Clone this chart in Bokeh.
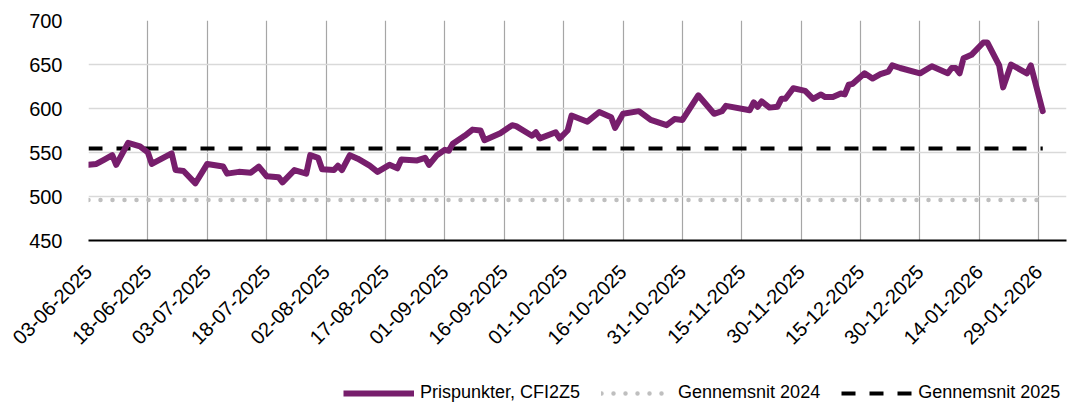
import math
import pandas as pd
from bokeh.plotting import figure
from bokeh.layouts import column
from bokeh.models import Range1d, FixedTicker, DatetimeTickFormatter, Legend, LegendItem, ColumnDataSource
from bokeh.embed import file_html
from bokeh.resources import INLINE

# ---- data ----
dates = [
    "2025-06-03", "2025-06-05", "2025-06-07", "2025-06-09", "2025-06-10", "2025-06-13",
    "2025-06-16", "2025-06-18", "2025-06-19", "2025-06-24", "2025-06-25", "2025-06-27",
    "2025-06-30", "2025-07-03", "2025-07-07", "2025-07-08", "2025-07-11", "2025-07-14",
    "2025-07-16", "2025-07-18", "2025-07-21", "2025-07-22", "2025-07-25", "2025-07-28",
    "2025-07-29", "2025-07-31", "2025-08-01", "2025-08-04", "2025-08-05", "2025-08-06",
    "2025-08-08", "2025-08-10", "2025-08-13", "2025-08-15", "2025-08-18", "2025-08-20",
    "2025-08-21", "2025-08-25", "2025-08-27", "2025-08-28", "2025-08-30", "2025-09-01",
    "2025-09-02", "2025-09-03", "2025-09-06", "2025-09-08", "2025-09-10", "2025-09-11",
    "2025-09-15", "2025-09-18", "2025-09-19", "2025-09-23", "2025-09-24", "2025-09-25",
    "2025-09-29", "2025-09-30", "2025-10-02", "2025-10-03", "2025-10-07", "2025-10-10",
    "2025-10-13", "2025-10-14", "2025-10-16", "2025-10-20", "2025-10-23", "2025-10-27",
    "2025-10-29", "2025-10-31", "2025-11-04", "2025-11-08", "2025-11-10", "2025-11-11",
    "2025-11-17", "2025-11-18", "2025-11-19", "2025-11-20", "2025-11-22", "2025-11-24",
    "2025-11-25", "2025-11-26", "2025-11-28", "2025-12-01", "2025-12-03", "2025-12-05",
    "2025-12-06", "2025-12-08", "2025-12-10", "2025-12-11", "2025-12-12", "2025-12-13",
    "2025-12-16", "2025-12-18", "2025-12-20", "2025-12-22", "2025-12-23", "2025-12-25",
    "2025-12-30", "2026-01-02", "2026-01-06", "2026-01-07", "2026-01-08", "2026-01-09",
    "2026-01-10", "2026-01-12", "2026-01-15", "2026-01-16", "2026-01-19", "2026-01-20",
    "2026-01-22", "2026-01-26", "2026-01-27", "2026-01-30",
]
prices = [
    536, 537, 542, 547, 536, 561,
    557, 550, 537, 549, 530, 529,
    515, 537, 534, 526, 528, 527,
    534, 523, 522, 516, 530, 526,
    547, 544, 531, 530, 535, 530,
    547, 543, 535, 528, 536, 532,
    542, 541, 544, 536, 547, 553,
    552, 560, 569, 576, 575, 564,
    572, 581, 580, 569, 573, 566,
    573, 566, 575, 592, 585, 596,
    590, 578, 594, 597, 587, 581,
    588, 587, 615, 594, 597, 603,
    598, 607, 602, 608, 601, 602,
    611, 611, 623, 620, 611, 616,
    613, 613, 617, 616, 627, 628,
    640, 634, 639, 642, 649, 646,
    640, 648, 640, 646, 646, 640,
    657, 661, 675, 675, 649, 624,
    650, 640, 649, 597,
]
avg_2024 = 496
avg_2025 = 554.5
series_names = ["Prispunkter, CFI2Z5", "Gennemsnit 2024", "Gennemsnit 2025"]
tick_labels = [
    "03-06-2025", "18-06-2025", "03-07-2025", "18-07-2025", "02-08-2025", "17-08-2025",
    "01-09-2025", "16-09-2025", "01-10-2025", "16-10-2025", "31-10-2025", "15-11-2025",
    "30-11-2025", "15-12-2025", "30-12-2025", "14-01-2026", "29-01-2026",
]
y_ticks = [450, 500, 550, 600, 650, 700]

# ---- styles ----
FONT = "Liberation Sans"
PURPLE = "#771E6C"
GREY_DOT = "#BFBFBF"
BLACK = "#000000"
W = 1083

# ---- build ----
x = pd.to_datetime(dates)
src = ColumnDataSource(dict(x=x, y=prices,
                            a24=[avg_2024] * len(prices),
                            a25=[avg_2025] * len(prices)))
tick_ms = [t.timestamp() * 1000 for t in pd.to_datetime(tick_labels, format="%d-%m-%Y")]

p = figure(width=W, height=370, x_axis_type="datetime",
           output_backend="svg", toolbar_location=None,
           x_range=Range1d(pd.Timestamp("2025-06-03"), pd.Timestamp("2026-02-05")),
           y_range=Range1d(450, 700),
           min_border_left=88, min_border_right=17, min_border_top=20, min_border_bottom=130)
p.outline_line_color = None
p.background_fill_color = "white"
p.border_fill_color = "white"

p.line("x", "a24", source=src, line_color=GREY_DOT, line_width=4.5,
       line_dash="0 12", line_cap="round")
p.line("x", "a25", source=src, line_color=BLACK, line_width=4, line_dash="14 14")
p.line("x", "y", source=src, line_color=PURPLE, line_width=6,
       line_join="round", line_cap="round")

xt = FixedTicker(ticks=tick_ms)
p.xaxis.ticker = xt
p.xgrid.ticker = xt
fmt = "%d-%m-%Y"
p.xaxis.formatter = DatetimeTickFormatter(
    microseconds=fmt, milliseconds=fmt, seconds=fmt, minsec=fmt, minutes=fmt,
    hourmin=fmt, hours=fmt, days=fmt, months=fmt, years=fmt)
p.xaxis.major_label_orientation = math.pi / 4
p.xaxis.axis_line_color = BLACK
p.xaxis.axis_line_width = 2
p.xaxis.major_tick_line_color = None
p.xaxis.minor_tick_line_color = None
p.xaxis.major_label_text_font = FONT
p.xaxis.major_label_text_font_size = "20px"
p.xaxis.major_label_text_color = BLACK
p.xaxis.major_label_standoff = 22

p.yaxis.ticker = FixedTicker(ticks=y_ticks)
p.yaxis.axis_line_color = None
p.yaxis.major_tick_line_color = None
p.yaxis.minor_tick_line_color = None
p.yaxis.major_label_text_font = FONT
p.yaxis.major_label_text_font_size = "20px"
p.yaxis.major_label_text_color = BLACK
p.yaxis.major_label_standoff = 20

p.xgrid.grid_line_color = "#A6A6A6"
p.xgrid.grid_line_width = 1.2
p.ygrid.grid_line_color = "#D9D9D9"
p.ygrid.grid_line_width = 1.5

# ---- legend strip (renderers reuse the data, but lie outside this strip's ranges) ----
lg = figure(width=W, height=33, output_backend="svg", toolbar_location=None,
            x_range=Range1d(0, 1), y_range=Range1d(0, 1), min_border=0,
            x_axis_location=None, y_axis_location=None)
lg.grid.visible = False
lg.outline_line_color = None
lr_p = lg.line("x", "y", source=src, line_color=PURPLE, line_width=6)
lr_24 = lg.line("x", "a24", source=src, line_color=GREY_DOT, line_width=4.5,
                line_dash="0 12", line_cap="round")
lr_25 = lg.line("x", "a25", source=src, line_color=BLACK, line_width=4, line_dash="14 14")
legend = Legend(items=[LegendItem(label=series_names[0], renderers=[lr_p]),
                       LegendItem(label=series_names[1], renderers=[lr_24]),
                       LegendItem(label=series_names[2], renderers=[lr_25])],
                location=(255, 0), orientation="horizontal",
                glyph_width=71, glyph_height=20, label_standoff=6, spacing=21,
                padding=0, margin=0, border_line_color=None, background_fill_alpha=0,
                label_text_font=FONT, label_text_font_size="18px",
                label_text_color=BLACK)
lg.add_layout(legend, "center")

layout = column(p, lg, spacing=0)
open("out.html", "w").write(file_html(layout, INLINE))
